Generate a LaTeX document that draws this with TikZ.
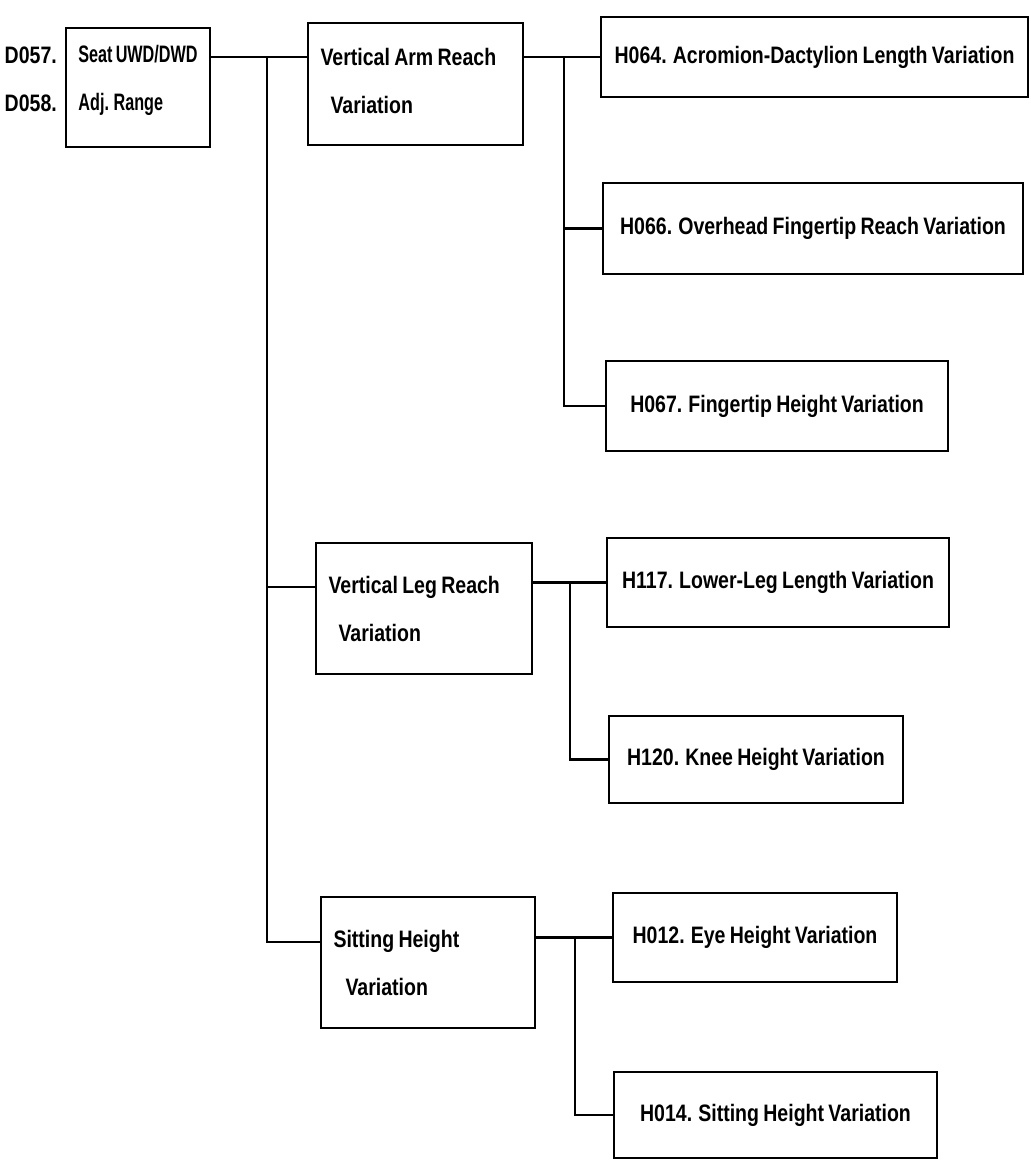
\documentclass[tikz,border=0pt]{standalone}
\usepackage{fontspec}
\setmainfont{Liberation Sans}[FakeStretch=0.82, WordSpace=0.8]
\newfontfamily\rootfont{Liberation Sans}[FakeStretch=0.68, WordSpace=0.7]
\usepackage{tikz}
\usetikzlibrary{positioning}

\begin{document}
\begin{tikzpicture}[x=0.5pt, y=-0.5pt, line width=1.2pt,
    font=\fontsize{11.9}{24}\selectfont\bfseries,
    leaf/.style={draw, inner sep=0pt, align=center},
    group/.style={draw, inner xsep=6.25pt, inner ysep=0pt, align=flush left},
    tag/.style={anchor=east, inner sep=0pt}]
  \useasboundingbox (0,0) rectangle (1031,1160);

  % root and its two codes
  \node[group, inner sep=0pt, minimum width=72pt, minimum height=59.5pt,
        text depth=10pt, font=\rootfont\fontsize{11.9}{24}\selectfont\bfseries]
      (seat) at (138,87.5) {Seat UWD/DWD\\Adj. Range};
  \node[tag] (d057) at (58,55) {D057.};
  \node[tag] (d058) at (58,103) {D058.};

  % second level
  \node[group, text width=95pt, minimum height=61pt, text depth=27pt]
      (arm) at (415.5,84) {Vertical Arm Reach\\\hspace*{5pt}Variation};
  \node[group, text width=95.5pt, minimum height=65.5pt] (leg) at (424,608.5)
      {Vertical Leg Reach\\\hspace*{5pt}Variation};
  \node[group, text width=94.5pt, minimum height=65.5pt] (sit) at (428,962.5)
      {Sitting Height\\\hspace*{6pt}Variation};

  % leaves
  \node[leaf, minimum width=213.5pt, minimum height=40pt] (h064) at (814.5,57)
      {H064. Acromion-Dactylion Length Variation};
  \node[leaf, minimum width=210pt, minimum height=45.5pt] (h066) at (813,228.5)
      {H066. Overhead Fingertip Reach Variation};
  \node[leaf, minimum width=171pt, minimum height=45pt] (h067) at (777,406)
      {H067. Fingertip Height Variation};
  \node[leaf, minimum width=171pt, minimum height=44.5pt] (h117) at (778,582.5)
      {H117. Lower-Leg Length Variation};
  \node[leaf, minimum width=147pt, minimum height=43.5pt] (h120) at (756,759.5)
      {H120. Knee Height Variation};
  \node[leaf, minimum width=142pt, minimum height=44.5pt] (h012) at (755,937.5)
      {H012. Eye Height Variation};
  \node[leaf, minimum width=161.5pt, minimum height=43pt] (h014) at (775.5,1115)
      {H014. Sitting Height Variation};

  % trunk
  \coordinate (j0) at (267,57);
  \coordinate (j1) at (267,587);
  \coordinate (j2) at (267,942);
  \draw (seat.east |- j0) -- (arm.west |- j0);
  \draw (j0) -- (j2) -- (sit.west |- j2);
  \draw (j1) -- (leg.west |- j1);

  % branches
  \coordinate (armbus) at (564,0);
  \coordinate (legbus) at (570,0);
  \coordinate (sitbus) at (575,0);
  \draw (arm.east |- h064.west) -- (h064.west);
  \draw (armbus |- h064.west) |- (h067.west);
  \draw (armbus |- h066.west) -- (h066.west);
  \draw (leg.east |- h117.west) -- (h117.west);
  \draw (legbus |- h117.west) |- (h120.west);
  \draw (sit.east |- h012.west) -- (h012.west);
  \draw (sitbus |- h012.west) |- (h014.west);
\end{tikzpicture}
\end{document}
